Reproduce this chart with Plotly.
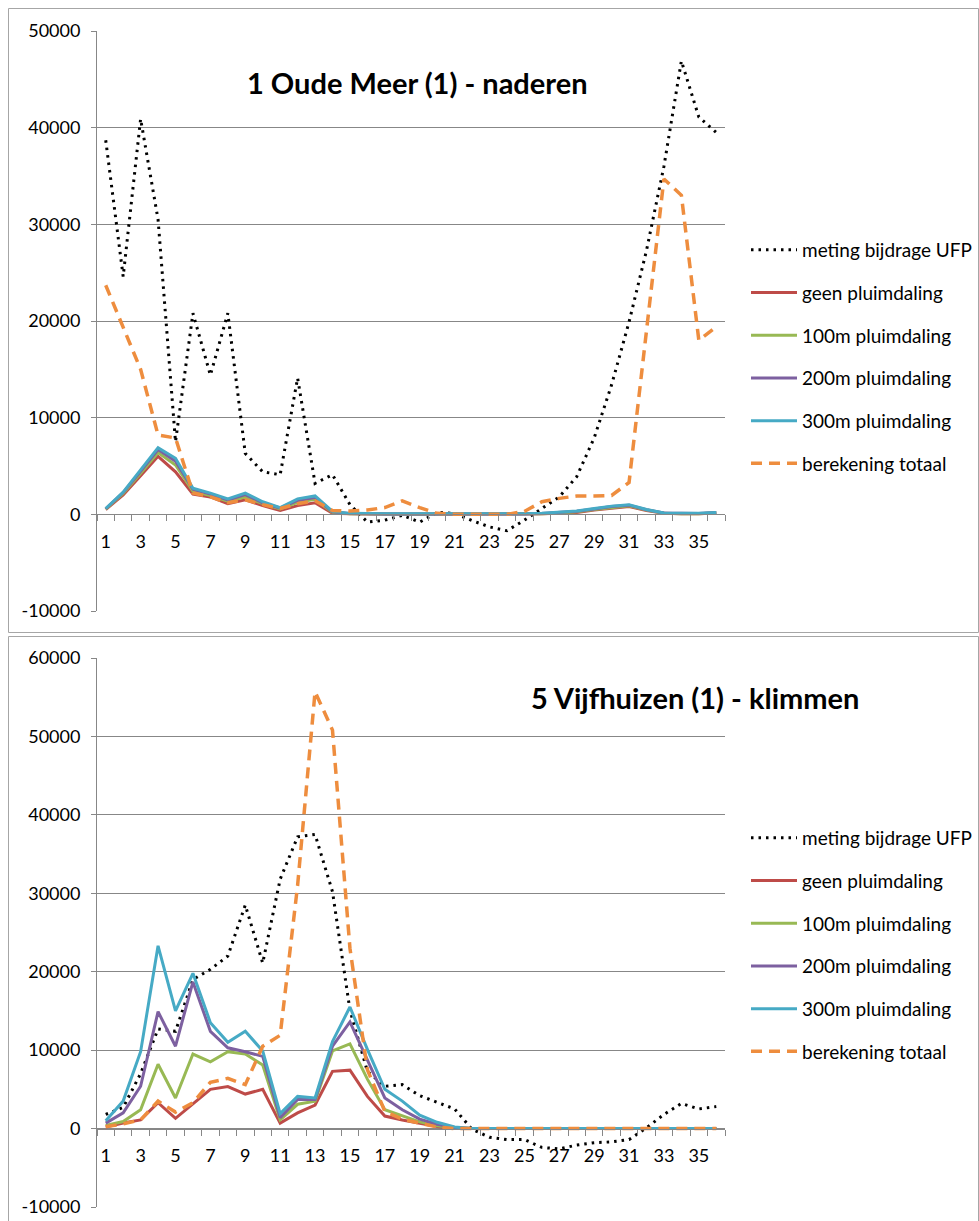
import plotly.graph_objects as go

# ---------------- data ----------------
categories = list(range(1, 37))
tick_labels_x = [str(i) for i in range(1, 37, 2)]

series_names = ["meting bijdrage UFP", "geen pluimdaling", "100m pluimdaling",
                "200m pluimdaling", "300m pluimdaling", "berekening totaal"]

# Top chart: 1 Oude Meer (1) - naderen
top_title = "1 Oude Meer (1) - naderen"
top_meting = [38700, 24600, 40900, 30500, 7500, 20800, 14400, 20800, 6300, 4400, 4100, 14100,
              3200, 4100, 1000, -800, -600, -100, -800, 200, 100, -650, -1300, -1700,
              -600, 600, 1800, 3900, 7900, 13400, 19900, 27300, 36000, 46900, 41100, 39500]
top_geen = [500, 2000, 4000, 6000, 4400, 2100, 1800, 1100, 1500, 900, 400, 900,
            1200, 100, 50, 20, 20, 20, 20, 20, 0, 0, 0, 0,
            20, 50, 100, 200, 450, 650, 800, 400, 100, 50, 50, 150]
top_100m = [550, 2150, 4250, 6400, 5100, 2400, 1950, 1350, 1800, 1100, 550, 1250,
            1550, 200, 60, 30, 30, 30, 30, 30, 0, 0, 0, 0,
            30, 70, 150, 270, 500, 720, 880, 450, 120, 70, 70, 170]
top_200m = [580, 2250, 4450, 6700, 5500, 2600, 2100, 1500, 2050, 1200, 650, 1450,
            1750, 250, 80, 40, 40, 40, 40, 40, 0, 0, 0, 0,
            40, 80, 180, 320, 560, 800, 950, 480, 140, 90, 90, 190]
top_300m = [600, 2300, 4600, 6900, 5800, 2700, 2200, 1600, 2200, 1300, 700, 1600,
            1900, 300, 100, 50, 50, 50, 50, 50, 0, 0, 0, 0,
            50, 100, 200, 350, 600, 850, 1000, 500, 150, 100, 100, 200]
top_totaal = [23700, 19300, 15000, 8200, 7900, 2200, 1800, 1200, 1500, 1000, 600, 1100,
              1400, 400, 350, 450, 700, 1400, 700, 100, 0, 0, 0, 0,
              300, 1300, 1650, 1900, 1900, 1950, 3300, 19000, 34700, 33000, 18000, 19400]
top_yticks = [-10000, 0, 10000, 20000, 30000, 40000, 50000]

# Bottom chart: 5 Vijfhuizen (1) - klimmen
bot_title = "5 Vijfhuizen (1) - klimmen"
bot_meting = [1800, 2700, 7000, 12700, 12400, 19000, 20300, 22000, 28500, 21100, 31800, 37200,
              37500, 30200, 15100, 7300, 5400, 5600, 4200, 3300, 2500, -100, -1100, -1400,
              -1400, -2400, -2600, -2100, -1800, -1700, -1400, 100, 1800, 3200, 2500, 2800]
bot_geen = [200, 700, 1100, 3300, 1300, 3200, 5000, 5350, 4400, 5000, 700, 2000,
            3000, 7300, 7450, 4100, 1600, 1100, 700, 250, 50, 0, 0, 0,
            0, 0, 0, 0, 0, 0, 0, 0, 0, 0, 0, 0]
bot_100m = [400, 900, 2400, 8200, 3900, 9500, 8500, 9800, 9500, 8100, 1100, 3100,
            3500, 9900, 10800, 6300, 2400, 1600, 850, 350, 100, 0, 0, 0,
            0, 0, 0, 0, 0, 0, 0, 0, 0, 0, 0, 0]
bot_200m = [700, 2000, 5400, 14900, 10500, 18700, 12400, 10300, 9800, 9200, 1400, 3700,
            3700, 10500, 13600, 8700, 3900, 2400, 1200, 550, 150, 0, 0, 0,
            0, 0, 0, 0, 0, 0, 0, 0, 0, 0, 0, 0]
bot_300m = [1000, 3500, 9800, 23300, 15000, 19800, 13500, 11000, 12400, 9900, 1900, 4100,
            3900, 11100, 15500, 10100, 5000, 3500, 1700, 800, 200, 0, 0, 0,
            0, 0, 0, 0, 0, 0, 0, 0, 0, 0, 0, 0]
bot_totaal = [250, 600, 1100, 3500, 2100, 3300, 5900, 6400, 5600, 10500, 11900, 31000,
              55700, 50800, 23000, 7500, 2200, 1200, 700, 200, 0, 0, 0, 0,
              0, 0, 0, 0, 0, 0, 0, 0, 0, 0, 0, 0]
bot_yticks = [-10000, 0, 10000, 20000, 30000, 40000, 50000, 60000]

# ---------------- styling ----------------
W, H = 979, 1221
FONT = "Lato, 'Open Sans', sans-serif"
GRID = "#878787"
styles = [
    dict(color="#000000", width=3, dash="2.5px,5px"),
    dict(color="#BE4B48", width=3, dash="solid"),
    dict(color="#98B954", width=3, dash="solid"),
    dict(color="#7D60A0", width=3, dash="solid"),
    dict(color="#46AAC5", width=3, dash="solid"),
    dict(color="#EE8D3E", width=3.5, dash="11px,7px"),
]

def px_x(p):
    return p / W

def px_y(p):
    return 1 - p / H

x_dom = [px_x(97), px_x(725)]
top_dom = [px_y(611), px_y(31)]
bot_dom = [px_y(1207), px_y(658)]

fig = go.Figure()

panels = [
    ("x", "y", "legend", "a", [top_meting, top_geen, top_100m, top_200m, top_300m, top_totaal]),
    ("x2", "y2", "legend2", "b", [bot_meting, bot_geen, bot_100m, bot_200m, bot_300m, bot_totaal]),
]
for xa, ya, lg, gp, series in panels:
    for i, (name, vals) in enumerate(zip(series_names, series)):
        fig.add_trace(go.Scatter(
            x=categories, y=vals, mode="lines", name=name,
            line=styles[i], xaxis=xa, yaxis=ya, legend=lg,
            legendgroup=f"{gp}{i}", hoverinfo="skip",
        ))

def zero_pos(dom, rng):
    return dom[0] + (0 - rng[0]) / (rng[1] - rng[0]) * (dom[1] - dom[0])

top_range = [top_yticks[0], top_yticks[-1]]
bot_range = [bot_yticks[0], bot_yticks[-1]]

tickfont = dict(family=FONT, size=18, color="#000000")

def xaxis_cfg(dom_y, rng):
    return dict(
        domain=x_dom, range=[0.5, 36.5], anchor="free", position=zero_pos(dom_y, rng),
        tickmode="array", tickvals=list(range(1, 37, 2)), ticktext=tick_labels_x,
        ticks="", showgrid=False, zeroline=False, showline=True, linecolor=GRID,
        linewidth=1, tickfont=tickfont, ticklabelstandoff=11, automargin=False,
        minor=dict(tickmode="array", tickvals=[k + 0.5 for k in range(0, 37)],
                   ticks="outside", ticklen=6, tickcolor=GRID, tickwidth=1, showgrid=False),
        fixedrange=True,
    )

def yaxis_cfg(dom, ticks, anchor):
    return dict(
        domain=dom, range=[ticks[0], ticks[-1]], anchor=anchor,
        tickmode="array", tickvals=ticks, ticktext=[str(t) for t in ticks],
        showgrid=True, gridcolor=GRID, gridwidth=1, zeroline=False,
        showline=True, linecolor=GRID, linewidth=1,
        ticks="outside", ticklen=5, tickcolor=GRID, tickfont=tickfont,
        ticklabelstandoff=7, automargin=False, fixedrange=True,
    )

legend_common = dict(
    xanchor="left", yanchor="top", font=dict(family=FONT, size=19, color="#000000"),
    bgcolor="rgba(0,0,0,0)", borderwidth=0, tracegroupgap=15, itemwidth=46,
)

fig.update_layout(
    width=W, height=H, autosize=False,
    margin=dict(l=0, r=0, t=0, b=0, autoexpand=False),
    paper_bgcolor="white", plot_bgcolor="white",
    font=dict(family=FONT, color="#000000"),
    xaxis=xaxis_cfg(top_dom, top_range),
    yaxis=yaxis_cfg(top_dom, top_yticks, "x"),
    xaxis2=xaxis_cfg(bot_dom, bot_range),
    yaxis2=yaxis_cfg(bot_dom, bot_yticks, "x2"),
    legend=dict(x=px_x(746), y=px_y(231), **legend_common),
    legend2=dict(x=px_x(746), y=px_y(819), **legend_common),
    showlegend=True,
    annotations=[
        dict(text=f"<b>{top_title}</b>", x=px_x(417), y=px_y(82), xref="paper", yref="paper",
             xanchor="center", yanchor="middle", showarrow=False,
             font=dict(family=FONT, size=29, color="#000000")),
        dict(text=f"<b>{bot_title}</b>", x=px_x(695), y=px_y(697), xref="paper", yref="paper",
             xanchor="center", yanchor="middle", showarrow=False,
             font=dict(family=FONT, size=29, color="#000000")),
    ],
    shapes=[
        dict(type="rect", xref="paper", yref="paper", x0=px_x(8.5), x1=px_x(978.5),
             y0=px_y(632.5), y1=px_y(8.5), line=dict(color="#A6A6A6", width=1)),
        dict(type="rect", xref="paper", yref="paper", x0=px_x(8.5), x1=px_x(978.5),
             y0=px_y(1230), y1=px_y(636.5), line=dict(color="#A6A6A6", width=1)),
    ],
)

fig.write_html("out.html", config={"displayModeBar": False},
               post_script="document.body.style.margin='0px';")
